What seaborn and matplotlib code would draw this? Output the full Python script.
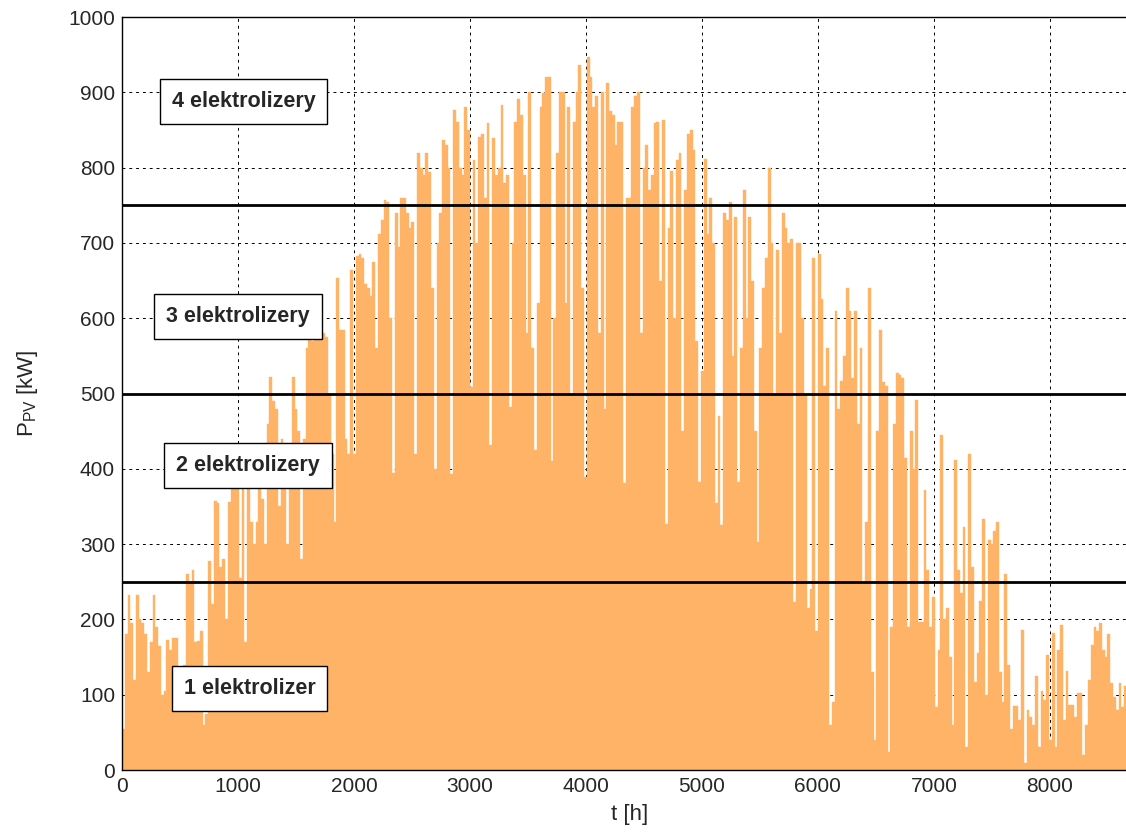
import numpy as np
import pandas as pd
import seaborn as sns
import matplotlib.pyplot as plt

# daily peak PV power [kW], one value per day of the year
peak_d000 = [55, 180, 232, 195, 120, 232, 200, 195, 180, 130,
             170, 232, 190, 165, 100, 105, 173, 160, 175, 175,
             130, 80, 140, 260, 250, 265, 170, 172, 185, 60,
             75, 277, 220, 357, 355, 270, 280, 200, 356, 383,
             380, 383, 255, 383, 170, 380, 330, 300]
peak_d048 = [330, 400, 360, 300, 460, 522, 490, 480, 350, 440,
             420, 300, 380, 522, 480, 450, 280, 440, 560, 589,
             570, 585, 580, 585, 580, 575, 500, 420, 330, 653,
             584, 585, 440, 420, 664, 420, 682, 685, 680, 646,
             640, 630, 675, 560, 712, 730, 757, 754]
peak_d096 = [600, 394, 740, 695, 760, 760, 740, 720, 728, 420,
             820, 800, 790, 820, 794, 640, 400, 700, 740, 837,
             830, 800, 393, 876, 860, 800, 790, 880, 850, 509,
             810, 700, 841, 845, 760, 859, 431, 840, 790, 800,
             883, 780, 790, 482, 700, 860, 891]
peak_d143 = [870, 790, 580, 900, 560, 425, 620, 880, 899, 921,
             921, 410, 600, 820, 900, 901, 620, 880, 500, 860,
             900, 936, 640, 389, 947, 920, 880, 895, 580, 900,
             480, 912, 875, 870, 830, 860, 860, 381, 760, 760,
             880, 895, 900, 580, 800, 830, 770]
peak_d190 = [790, 859, 861, 650, 863, 327, 720, 796, 600, 810,
             819, 450, 770, 845, 850, 823, 570, 383, 530, 812,
             712, 760, 700, 354, 470, 325, 740, 730, 755, 550,
             735, 383, 560, 770, 600, 735, 650, 450, 303, 560,
             640, 680, 800, 700, 500, 690, 580]
peak_d237 = [740, 720, 700, 705, 223, 700, 700, 600, 500, 215,
             240, 680, 184, 685, 625, 510, 560, 60, 90, 610,
             480, 516, 550, 640, 610, 520, 610, 460, 560, 250,
             330, 640, 130, 40, 450, 585, 515, 510, 24, 190,
             460, 527, 525, 520, 415, 190, 450]
peak_d284 = [400, 491, 197, 197, 372, 265, 190, 230, 84, 160,
             445, 200, 215, 150, 60, 412, 265, 235, 323, 30,
             420, 270, 117, 155, 225, 334, 100, 306, 300, 318,
             330, 130, 90, 260, 140, 55, 85, 85, 67, 186,
             10, 80, 70, 60, 125, 31, 105]
peak_d331 = [93, 153, 40, 182, 30, 159, 193, 66, 131, 86,
             86, 71, 102, 102, 20, 60, 120, 166, 190, 185,
             195, 159, 150, 181, 115, 97, 80, 115, 84, 111,
             97, 195, 195, 100]

thresholds = [250, 500, 750]
box_labels = ['1 elektrolizer', '2 elektrolizery', '3 elektrolizery', '4 elektrolizery']
box_t = [1100, 1085, 1000, 1050]
box_p = [108, 404, 602, 888]

daily = (peak_d000 + peak_d048 + peak_d096 + peak_d143 + peak_d190
         + peak_d237 + peak_d284 + peak_d331)
df = pd.DataFrame({'t': np.arange(len(daily)) * 24 + 12, 'P': daily})

sns.set_style('white')
plt.rcParams['font.family'] = ['Liberation Sans', 'DejaVu Sans']

fig = plt.figure(figsize=(11.26, 8.35), dpi=100)
ax = fig.add_axes([0.1083, 0.0778, 0.9024, 0.9018])

sns.histplot(data=df, x='t', weights='P', bins=365, binrange=(0, 8760),
             color='#FFB366', alpha=1, edgecolor='#FFB366', linewidth=0.3, ax=ax)

for lvl in thresholds:
    ax.axhline(lvl, color='black', lw=2, zorder=3)

for txt, tx, py in zip(box_labels, box_t, box_p):
    ax.text(tx, py, txt, ha='center', va='center', fontsize=15.5, fontweight='bold',
            zorder=5, bbox=dict(boxstyle='square,pad=0.55', fc='white', ec='black', lw=1))

ax.set_xlim(0, 8760)
ax.set_ylim(0, 1000)
ax.set_xticks(range(0, 9000, 1000))
ax.set_yticks(range(0, 1100, 100))
ax.tick_params(direction='in', length=5, labelsize=15, pad=5)
ax.grid(True, color='black', linestyle=(0, (3, 4)), lw=0.7)
ax.set_axisbelow(True)
for s in ax.spines.values():
    s.set_color('black')
    s.set_linewidth(1)

ax.set_xlabel('t [h]', fontsize=16, labelpad=6)
ax.set_ylabel(r'P$_{\mathregular{PV}}$ [kW]', fontsize=16, labelpad=20)

fig.savefig('out.png', dpi=100)
